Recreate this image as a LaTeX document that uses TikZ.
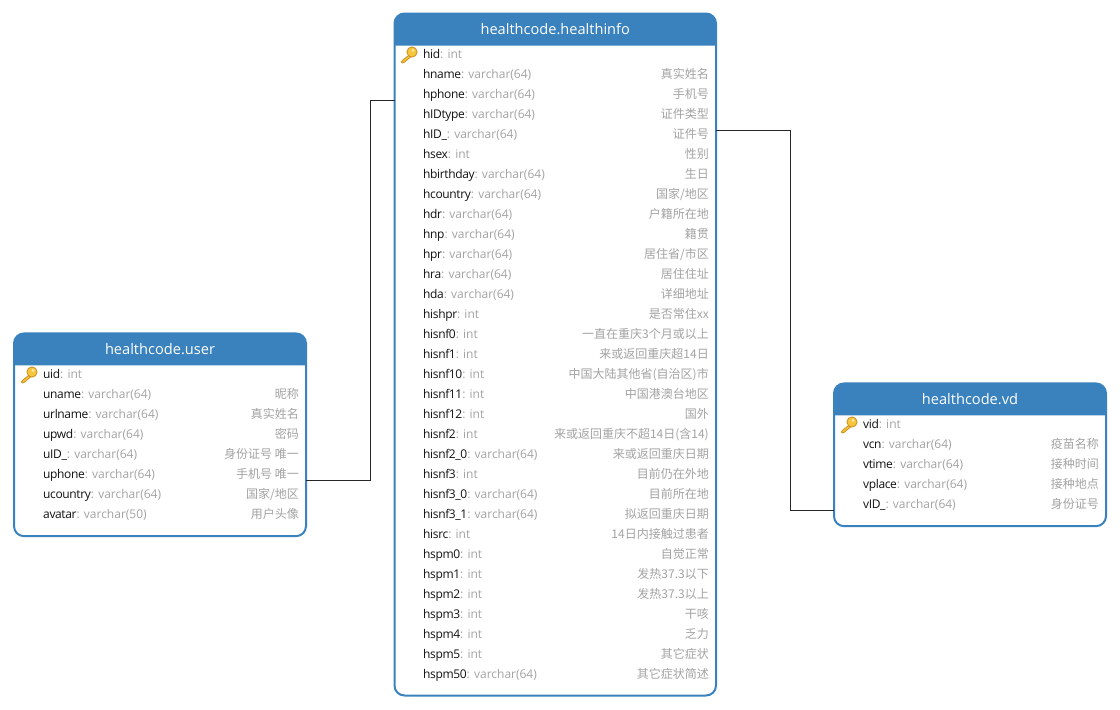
\documentclass[tikz,border=0pt]{standalone}
\usepackage{fontspec}
\setmainfont{Open Sans}
\newfontfamily\namefont[LetterSpace=-3]{Open Sans}
\newfontfamily\cjk{Noto Sans CJK SC}
\definecolor{tblue}{HTML}{3A82BD}
\definecolor{tgray}{HTML}{A3A3A3}
\definecolor{tname}{HTML}{111111}
\definecolor{keyfill}{HTML}{F7C63F}
\definecolor{keyline}{HTML}{C98F1E}
\tikzset{
  tablebox/.style={draw=tblue,line width=2pt,fill=white,rounded corners=10pt,inner sep=0pt,outer sep=0pt},
  tabletitle/.style={text=white,font=\fontsize{14.6}{16}\selectfont,inner sep=0pt},
  fieldtext/.style={anchor=base west,inner sep=0pt,font=\fontsize{12}{14}\selectfont,text=tname},
  notetext/.style={anchor=base east,inner sep=0pt,font=\fontsize{12}{14}\selectfont\cjk,text=tgray},
  link/.style={draw=black!85,line width=0.75pt},
  keyicon/.pic={
    \draw[keyline,fill=keyfill,line width=0.8pt,line join=round]
      (-8.6,7.6) -- (-10.8,10.0) -- (-9.2,11) -- (-7.6,10.2) -- (-1.4,4.9) -- (-3,3.2) -- cycle;
    \draw[keyline,fill=keyfill,line width=0.8pt] (0,0) circle (5.1);
    \fill[white,opacity=.6] (1,-1.6) circle (1.5);
  }
}
\newcommand{\frow}[5]{%
  \node[fieldtext] (#1-name-#2) at (\leftx,#2+4.3) {{\namefont #3}\textcolor{tgray}{: #4}};
  \node[notetext] (#1-note-#2) at (\rightx,#2+4.3) {#5};
}
\newcommand{\tablehead}[2]{%
  \fill[tblue] ([yshift=-32pt]#1.north west) [rounded corners=10pt] -- (#1.north west) -- (#1.north east) [sharp corners] -- ([yshift=-32pt]#1.north east) -- cycle;
  \node[tabletitle] (#1-title) at ([yshift=-15.5pt]#1.north) {#2};
}
\begin{document}
\begin{tikzpicture}[x=1pt,y=-1pt]
\useasboundingbox (0,0) rectangle (1120,710);
\fill[white] (0,0) rectangle (1120,710);

\node[tablebox,minimum width=292pt,minimum height=202.7pt] (user) at (160,434.8) {};
\node[tablebox,minimum width=321.5pt,minimum height=682pt] (info) at (555.25,354.5) {};
\node[tablebox,minimum width=272pt,minimum height=142.7pt] (vd) at (970,454.8) {};

\draw[link] ([yshift=-45.3pt]user.east) -- ++(64.5,0) |- ([yshift=254.5pt]info.west);
\draw[link] ([yshift=224.5pt]info.east) -- ++(74.5,0) |- ([yshift=-55.3pt]vd.west);

\tablehead{user}{healthcode.user}
\tablehead{info}{healthcode.healthinfo}
\tablehead{vd}{healthcode.vd}

\pic at (32,372) {keyicon};
\pic at (412,52) {keyicon};
\pic at (852,422) {keyicon};

\def\leftx{43}\def\rightx{299}
\frow{user}{374}{uid}{int}{}
\frow{user}{394}{uname}{varchar(64)}{昵称}
\frow{user}{414}{urlname}{varchar(64)}{真实姓名}
\frow{user}{434}{upwd}{varchar(64)}{密码}
\frow{user}{454}{uID\_}{varchar(64)}{身份证号 唯一}
\frow{user}{474}{uphone}{varchar(64)}{手机号 唯一}
\frow{user}{494}{ucountry}{varchar(64)}{国家/地区}
\frow{user}{514}{avatar}{varchar(50)}{用户头像}

\def\leftx{423}\def\rightx{709}
\frow{info}{54}{hid}{int}{}
\frow{info}{74}{hname}{varchar(64)}{真实姓名}
\frow{info}{94}{hphone}{varchar(64)}{手机号}
\frow{info}{114}{hIDtype}{varchar(64)}{证件类型}
\frow{info}{134}{hID\_}{varchar(64)}{证件号}
\frow{info}{154}{hsex}{int}{性别}
\frow{info}{174}{hbirthday}{varchar(64)}{生日}
\frow{info}{194}{hcountry}{varchar(64)}{国家/地区}
\frow{info}{214}{hdr}{varchar(64)}{户籍所在地}
\frow{info}{234}{hnp}{varchar(64)}{籍贯}
\frow{info}{254}{hpr}{varchar(64)}{居住省/市区}
\frow{info}{274}{hra}{varchar(64)}{居住住址}
\frow{info}{294}{hda}{varchar(64)}{详细地址}
\frow{info}{314}{hishpr}{int}{是否常住xx}
\frow{info}{334}{hisnf0}{int}{一直在重庆3个月或以上}
\frow{info}{354}{hisnf1}{int}{来或返回重庆超14日}
\frow{info}{374}{hisnf10}{int}{中国大陆其他省(自治区)市}
\frow{info}{394}{hisnf11}{int}{中国港澳台地区}
\frow{info}{414}{hisnf12}{int}{国外}
\frow{info}{434}{hisnf2}{int}{来或返回重庆不超14日(含14)}
\frow{info}{454}{hisnf2\_0}{varchar(64)}{来或返回重庆日期}
\frow{info}{474}{hisnf3}{int}{目前仍在外地}
\frow{info}{494}{hisnf3\_0}{varchar(64)}{目前所在地}
\frow{info}{514}{hisnf3\_1}{varchar(64)}{拟返回重庆日期}
\frow{info}{534}{hisrc}{int}{14日内接触过患者}
\frow{info}{554}{hspm0}{int}{自觉正常}
\frow{info}{574}{hspm1}{int}{发热37.3以下}
\frow{info}{594}{hspm2}{int}{发热37.3以上}
\frow{info}{614}{hspm3}{int}{干咳}
\frow{info}{634}{hspm4}{int}{乏力}
\frow{info}{654}{hspm5}{int}{其它症状}
\frow{info}{674}{hspm50}{varchar(64)}{其它症状简述}

\def\leftx{863}\def\rightx{1099}
\frow{vd}{424}{vid}{int}{}
\frow{vd}{444}{vcn}{varchar(64)}{疫苗名称}
\frow{vd}{464}{vtime}{varchar(64)}{接种时间}
\frow{vd}{484}{vplace}{varchar(64)}{接种地点}
\frow{vd}{504}{vID\_}{varchar(64)}{身份证号}
\end{tikzpicture}
\end{document}
